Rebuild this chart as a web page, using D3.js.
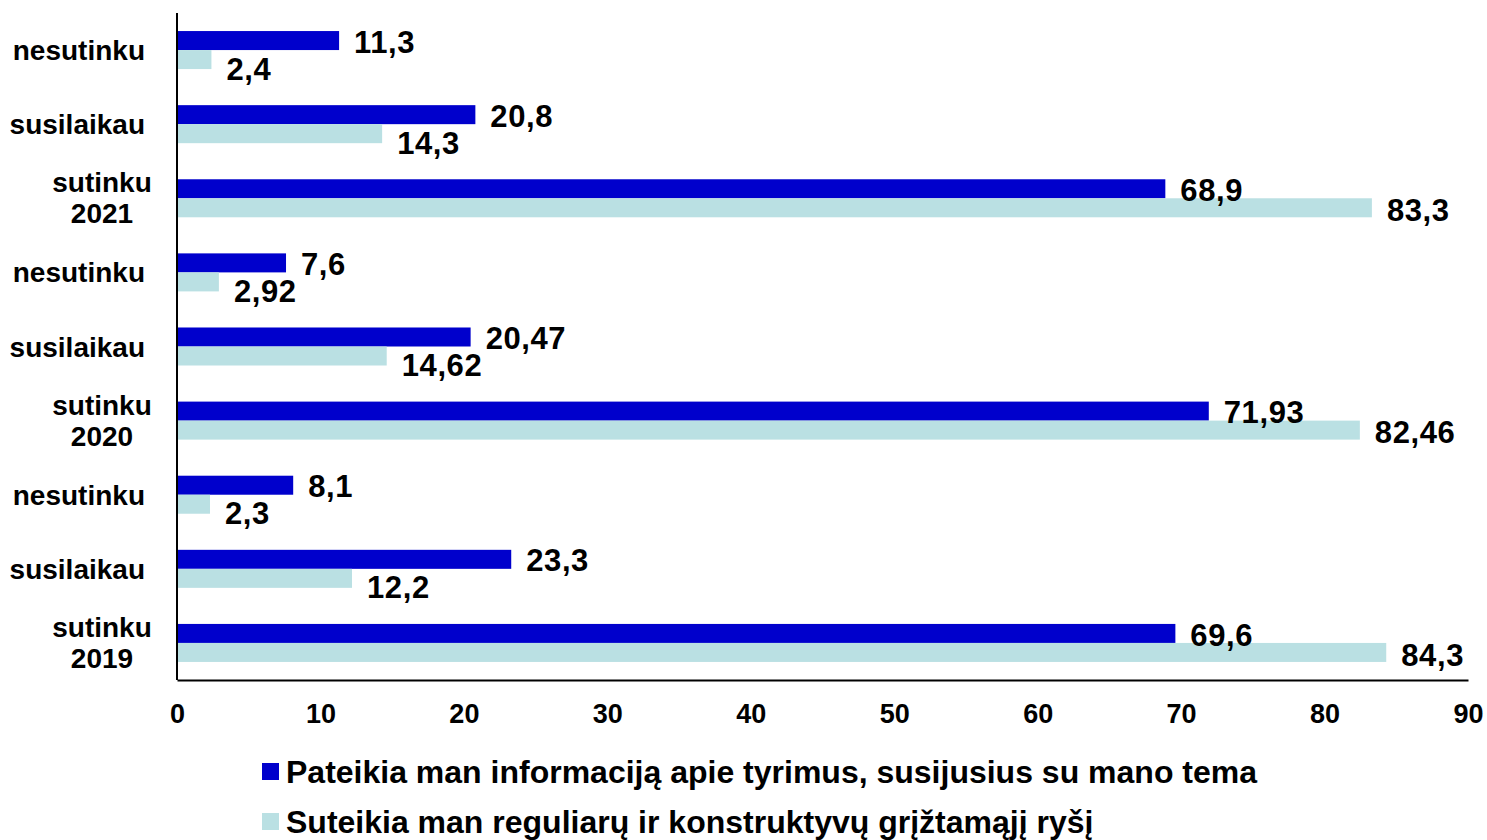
<!DOCTYPE html>
<html>
<head>
<meta charset="utf-8">
<script src="https://cdn.jsdelivr.net/npm/d3@7"></script>
<style>
  html, body { margin: 0; padding: 0; background: #fff; }
  svg { display: block; font-family: "Liberation Sans", Arial, sans-serif; font-weight: bold; }
</style>
</head>
<body>
<svg id="chart" width="1487" height="840"></svg>
<script>
// ---- data ----
const categories = [
  ["nesutinku"], ["susilaikau"], ["sutinku", "2021"],
  ["nesutinku"], ["susilaikau"], ["sutinku", "2020"],
  ["nesutinku"], ["susilaikau"], ["sutinku", "2019"]
];
const seriesNames = [
  "Pateikia man informaciją apie tyrimus, susijusius su mano tema",
  "Suteikia man reguliarų ir konstruktyvų grįžtamąjį ryšį"
];
const seriesInfo = [11.3, 20.8, 68.9, 7.6, 20.47, 71.93, 8.1, 23.3, 69.6];
const seriesFeedback = [2.4, 14.3, 83.3, 2.92, 14.62, 82.46, 2.3, 12.2, 84.3];
const xTicks = [0, 10, 20, 30, 40, 50, 60, 70, 80, 90];
const colors = ["#0000CC", "#BAE0E3"];

// ---- layout ----
const svg = d3.select("#chart");
const mLeft = 177, mRight = 1468, mTop = 13, mBottom = 680;

const x = d3.scaleLinear().domain([0, 90]).range([mLeft, mRight]);
const y = d3.scaleBand().domain(d3.range(categories.length)).range([mTop, mBottom])
  .paddingInner(0.487).paddingOuter(0.2435);
const sub = d3.scaleBand().domain([0, 1]).range([0, y.bandwidth()]);

const series = [seriesInfo, seriesFeedback];
const fmt = v => String(v).replace(".", ",");

// bars
series.forEach((vals, s) => {
  svg.append("g").selectAll("rect").data(vals).join("rect")
    .attr("x", x(0))
    .attr("y", (d, i) => y(i) + sub(s))
    .attr("width", d => x(d) - x(0))
    .attr("height", sub.bandwidth())
    .attr("fill", colors[s]);
});

// data labels
series.forEach((vals, s) => {
  svg.append("g").selectAll("text").data(vals).join("text")
    .attr("x", d => x(d) + 15)
    .attr("y", (d, i) => {
      const c = y(i) + sub(s) + sub.bandwidth() / 2;
      let dy = 1;
      if (s === 1) dy = d > 50 ? 2 : 9;
      return c + dy;
    })
    .attr("dy", "0.36em")
    .attr("font-size", 31)
    .attr("letter-spacing", 0.6)
    .attr("fill", "#000")
    .text(d => fmt(d));
});

// axes
const xAxis = d3.axisBottom(x).tickValues(xTicks).tickSize(0).tickPadding(24);
const gx = svg.append("g").attr("transform", `translate(0,${mBottom})`).call(xAxis);
gx.select(".domain").attr("stroke", "#000").attr("stroke-width", 2);
gx.selectAll("text").attr("font-size", 27).attr("font-family", "Liberation Sans, Arial, sans-serif")
  .attr("font-weight", "bold").attr("fill", "#000");

svg.append("line").attr("x1", mLeft).attr("x2", mLeft).attr("y1", mTop).attr("y2", mBottom)
  .attr("stroke", "#000").attr("stroke-width", 2);

// category labels
const gy = svg.append("g");
categories.forEach((lines, i) => {
  const c = y(i) + y.bandwidth() / 2;
  if (lines.length === 1) {
    gy.append("text").attr("x", 145).attr("y", c).attr("dy", "0.36em")
      .attr("text-anchor", "end").attr("font-size", 28).text(lines[0]);
  } else {
    lines.forEach((t, k) => {
      gy.append("text").attr("x", 102).attr("y", c + (k === 0 ? -16 : 15)).attr("dy", "0.36em")
        .attr("text-anchor", "middle").attr("font-size", 28).text(t);
    });
  }
});

// legend
const lg = svg.append("g");
seriesNames.forEach((name, s) => {
  const yy = 771 + s * 50;
  lg.append("rect").attr("x", 262).attr("y", yy - 8).attr("width", 17).attr("height", 17).attr("fill", colors[s]);
  lg.append("text").attr("x", 286).attr("y", yy).attr("dy", "0.36em").attr("font-size", 32).text(name);
});
</script>
</body>
</html>
